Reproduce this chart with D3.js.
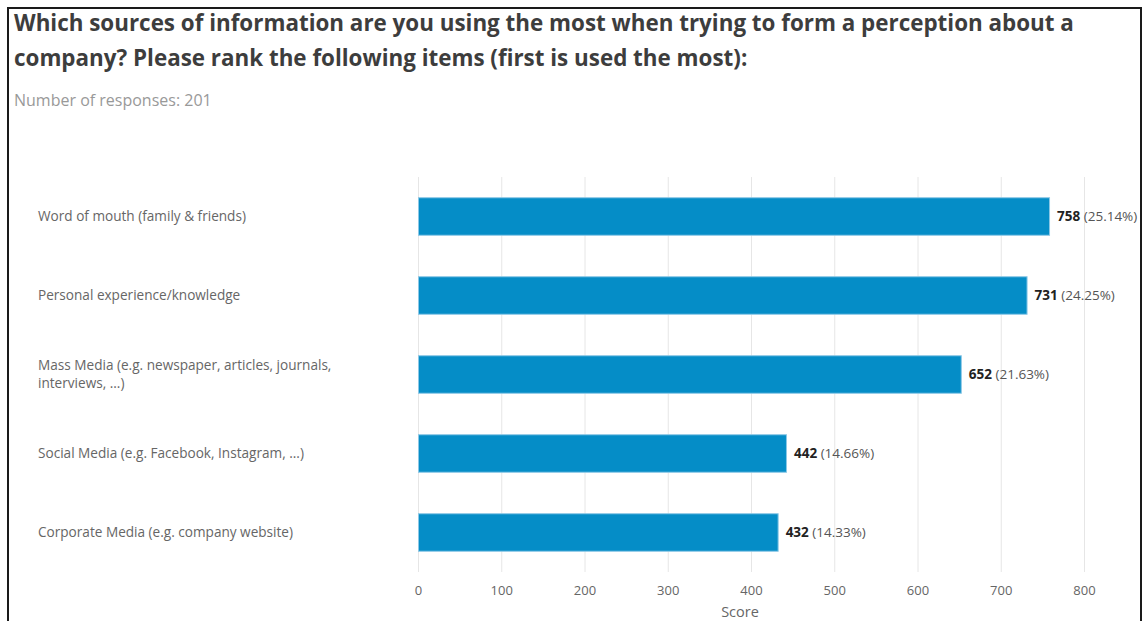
<!DOCTYPE html>
<html>
<head>
<meta charset="utf-8">
<script src="https://cdn.jsdelivr.net/npm/d3@7"></script>
<style>
  html, body { margin: 0; padding: 0; background: #fff; }
  svg { display: block; font-family: "Open Sans", sans-serif; }
</style>
</head>
<body>
<svg id="chart" width="1145" height="621"></svg>
<script>
// Survey question and response data
const titleLines = [
  "Which sources of information are you using the most when trying to form a perception about a",
  "company? Please rank the following items (first is used the most):"
];
const subtitle = "Number of responses: 201";
const categories = [
  ["Word of mouth (family & friends)"],
  ["Personal experience/knowledge"],
  ["Mass Media (e.g. newspaper, articles, journals,", "interviews, ...)"],
  ["Social Media (e.g. Facebook, Instagram, ...)"],
  ["Corporate Media (e.g. company website)"]
];
const scores = [758, 731, 652, 442, 432];
const percents = ["25.14%", "24.25%", "21.63%", "14.66%", "14.33%"];
const xTicks = [0, 100, 200, 300, 400, 500, 600, 700, 800];
const xTitle = "Score";

const svg = d3.select("#chart");

// outer frame
svg.append("rect")
  .attr("x", 8).attr("y", 8)
  .attr("width", 1133).attr("height", 640)
  .attr("fill", "none").attr("stroke", "#1a1a1a").attr("stroke-width", 2);

// title
svg.append("g").selectAll("text").data(titleLines).join("text")
  .attr("x", 14).attr("y", (d, i) => 31 + i * 35)
  .attr("font-size", 22.4).attr("font-weight", 700).attr("fill", "#3d3d3d")
  .text(d => d);

svg.append("text")
  .attr("x", 14).attr("y", 106)
  .attr("font-size", 16).attr("fill", "#999")
  .text(subtitle);

const plotLeft = 418, plotRight = 1084, plotTop = 177, plotBottom = 572;
const x = d3.scaleLinear().domain([0, 800]).range([plotLeft, plotRight]);
const y = d3.scaleBand().domain(d3.range(categories.length)).range([plotTop, plotBottom]).paddingInner(0.525).paddingOuter(0.2625);

// vertical gridlines
svg.append("g").selectAll("line").data(xTicks).join("line")
  .attr("x1", d => x(d) + 0.5).attr("x2", d => x(d) + 0.5)
  .attr("y1", plotTop).attr("y2", plotBottom)
  .attr("stroke", "#e6e6e6").attr("stroke-width", 1);

// x axis tick labels
const xAxis = d3.axisBottom(x).tickValues(xTicks).tickSize(0).tickPadding(0);
const gx = svg.append("g").attr("transform", `translate(0,${plotBottom + 14})`).call(xAxis);
gx.select(".domain").remove();
gx.selectAll("text").attr("font-family", "Open Sans, sans-serif").attr("font-size", 13).attr("fill", "#666");

svg.append("text")
  .attr("x", 740).attr("y", 617)
  .attr("text-anchor", "middle").attr("font-size", 14.5).attr("fill", "#666")
  .text(xTitle);

// category labels
const labels = svg.append("g").selectAll("text").data(categories).join("text")
  .attr("x", 38)
  .attr("font-size", 13.6).attr("fill", "#666");
labels.each(function (lines, i) {
  const cy = y(i) + y.bandwidth() / 2;
  const lh = 18;
  const y0 = cy - (lines.length - 1) * lh / 2 + 4;
  d3.select(this).selectAll("tspan").data(lines).join("tspan")
    .attr("x", 38).attr("y", (d, j) => y0 + j * lh)
    .text(d => d);
});

// bars
svg.append("g").selectAll("rect").data(scores).join("rect")
  .attr("x", x(0) + 0.5)
  .attr("y", (d, i) => y(i))
  .attr("width", d => x(d) - x(0))
  .attr("height", y.bandwidth())
  .attr("fill", "#058dc7")
  .attr("stroke", "#8cc8e6").attr("stroke-width", 1);

// value labels
const vl = svg.append("g").selectAll("text").data(scores).join("text")
  .attr("x", d => x(d) + 8)
  .attr("y", (d, i) => y(i) + y.bandwidth() / 2 + 4.5)
  .attr("font-size", 13.5);
vl.append("tspan").attr("font-weight", 700).attr("fill", "#222").text(d => d);
vl.append("tspan").attr("fill", "#555").text((d, i) => " (" + percents[i] + ")");
</script>
</body>
</html>
